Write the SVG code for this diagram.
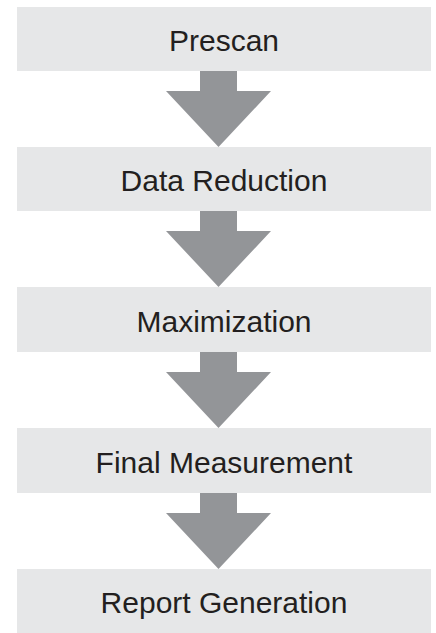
<svg xmlns="http://www.w3.org/2000/svg" xmlns:xlink="http://www.w3.org/1999/xlink" width="436" height="633" viewBox="0 0 436 633">
<style>
.box{fill:#e6e7e8}
.arrow{fill:#939598}
.label{font-family:"Liberation Sans",Arial,sans-serif;font-size:30px;fill:#231f20;text-anchor:middle}
</style>
<defs>
<path id="downArrow" class="arrow" d="M -18.5 0 H 18.5 V 20 H 52.5 L 0 76 L -52.5 20 H -18.5 Z"/>
</defs>
<rect width="436" height="633" fill="#ffffff"/>
<g id="connectors">
<use xlink:href="#downArrow" href="#downArrow" transform="translate(218.5,71)"/>
<use xlink:href="#downArrow" href="#downArrow" transform="translate(218.5,211)"/>
<use xlink:href="#downArrow" href="#downArrow" transform="translate(218.5,352)"/>
<use xlink:href="#downArrow" href="#downArrow" transform="translate(218.5,493)"/>
</g>
<g id="prescan">
<rect class="box" x="17" y="7" width="414" height="64"/>
<text class="label" x="224" y="51">Prescan</text>
</g>
<g id="data-reduction">
<rect class="box" x="17" y="147" width="414" height="64"/>
<text class="label" x="224" y="191">Data Reduction</text>
</g>
<g id="maximization">
<rect class="box" x="17" y="287" width="414" height="65"/>
<text class="label" x="224" y="332">Maximization</text>
</g>
<g id="final-measurement">
<rect class="box" x="17" y="428" width="414" height="65"/>
<text class="label" x="224" y="473">Final Measurement</text>
</g>
<g id="report-generation">
<rect class="box" x="17" y="569" width="414" height="64"/>
<text class="label" x="224" y="613">Report Generation</text>
</g>
</svg>
